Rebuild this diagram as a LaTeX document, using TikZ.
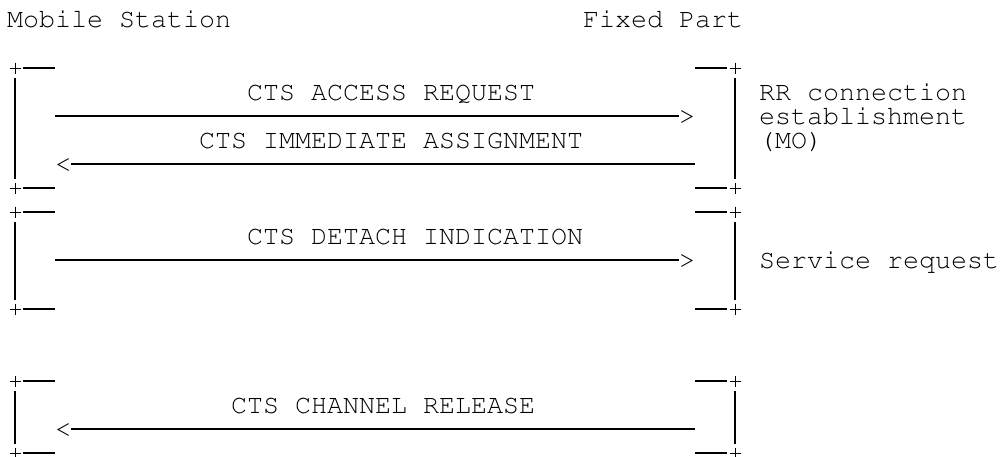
\documentclass[tikz,border=0pt]{standalone}
\usepackage[T1]{fontenc}
\usepackage{courier}
\newcommand\colx[1]{7+16*#1}
\newcommand\rowb[1]{27.7+24.1*#1}
\newcommand\rowl[1]{{round(19.4+24.1*#1)}}
\begin{document}
\begin{tikzpicture}[x=1pt,y=-1pt,
  txt/.style={anchor=base west,inner sep=0pt,outer sep=0pt,
    font=\ttfamily\fontsize{26.67pt}{30pt}\selectfont,text=black},
  rule/.style={line width=2pt,black},
  bar/.style={line width=2pt,black},
  plusmark/.style={line width=1pt,black}]
\useasboundingbox (0,0) rectangle (1001,456);

% header
\node[txt] (ms) at (\colx{0},\rowb{0}) {Mobile Station};
\node[txt] (fp) at (\colx{36},\rowb{0}) {Fixed Part};

% brackets: corners
\foreach \n/\r in {a/2,b/7,c/8,d/12,e/15,f/18}{
  \coordinate (L\n) at (15,\rowl{\r});
  \coordinate (R\n) at (735,\rowl{\r});
  \draw[plusmark] (L\n) +(-5.5,0) -- +(5.5,0) (L\n) +(0,-5.5) -- +(0,5.5);
  \draw[plusmark] (R\n) +(-5.5,0) -- +(5.5,0) (R\n) +(0,-5.5) -- +(0,5.5);
  \draw[rule] ([xshift=8pt]L\n) -- ([xshift=40pt]L\n);
  \draw[rule] ([xshift=-40pt]R\n) -- ([xshift=-8pt]R\n);
}
\foreach \t/\b in {a/b,c/d,e/f}{
  \draw[bar] ([yshift=-10pt]L\t) -- ([yshift=9pt]L\b);
  \draw[bar] ([yshift=-10pt]R\t) -- ([yshift=9pt]R\b);
}

% group 1
\node[txt] (m1) at (\colx{15},\rowb{3}) {CTS ACCESS REQUEST};
\node[txt] (h1) at (\colx{42},\rowb{4}) {>};
\coordinate (s1) at (\colx{3},\rowl{4});
\draw[rule] (s1) -- (s1 -| h1.west);

\node[txt] (m2) at (\colx{12},\rowb{5}) {CTS IMMEDIATE ASSIGNMENT};
\node[txt] (h2) at (\colx{3},\rowb{6}) {<};
\coordinate (s2) at (\colx{43},\rowl{6});
\draw[rule] (s2 -| h2.east) -- (s2);

\node[txt] (n1) at (\colx{47},\rowb{3}) {RR connection};
\node[txt] (n2) at (\colx{47},\rowb{4}) {establishment};
\node[txt] (n3) at (\colx{47},\rowb{5}) {(MO)};

% group 2
\node[txt] (m3) at (\colx{15},\rowb{9}) {CTS DETACH INDICATION};
\node[txt] (h3) at (\colx{42},\rowb{10}) {>};
\coordinate (s3) at (\colx{3},\rowl{10});
\draw[rule] (s3) -- (s3 -| h3.west);
\node[txt] (n4) at (\colx{47},\rowb{10}) {Service request};

% group 3
\node[txt] (m4) at (\colx{14},\rowb{16}) {CTS CHANNEL RELEASE};
\node[txt] (h4) at (\colx{3},\rowb{17}) {<};
\coordinate (s4) at (\colx{43},\rowl{17});
\draw[rule] (s4 -| h4.east) -- (s4);
\end{tikzpicture}
\end{document}
